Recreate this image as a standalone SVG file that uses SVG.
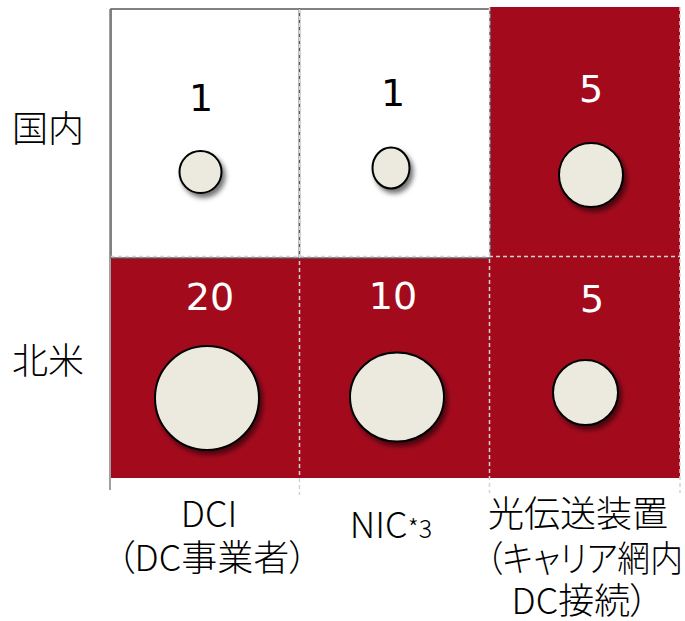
<svg xmlns="http://www.w3.org/2000/svg" width="685" height="621" viewBox="0 0 685 621">
<defs>
<filter id="sh" x="-30%" y="-30%" width="170%" height="170%">
<feDropShadow dx="3" dy="4" stdDeviation="2.5" flood-color="#000" flood-opacity="0.55"/>
</filter>
</defs>
<style>
.red{fill:#A30B1D}
.wcell{fill:#fff;stroke:#595959;stroke-width:1.5}
.dash{stroke:#d4d4d4;stroke-width:1.5;stroke-dasharray:4 3;fill:none}
.bub{fill:#ECEADF;stroke:#000;stroke-width:2;filter:url(#sh)}
.num{font-family:"DejaVu Sans",sans-serif;font-size:38px;text-anchor:middle}
.nw{fill:#fff}
.nb{fill:#000}
.lab{font-family:"Noto Sans CJK JP",sans-serif;font-size:36px;font-weight:300;fill:#000}
.mid{text-anchor:middle}
.palt{font-feature-settings:"palt"}
</style>
<rect width="685" height="621" fill="#fff"/>
<g id="background">
<rect class="red" x="490" y="7" width="190" height="250"/>
<rect class="red" x="111" y="257" width="569" height="221"/>
<rect class="wcell" x="111" y="9" width="188.5" height="249"/>
<rect class="wcell" x="299.5" y="9" width="190.5" height="249"/>
</g>
<g id="grid">
<line x1="110" y1="9" x2="110" y2="490" stroke="#808080" stroke-width="1.5"/>
<line class="dash" x1="111" y1="256.5" x2="680" y2="256.5"/>
<line class="dash" x1="299.5" y1="9" x2="299.5" y2="495"/>
<line class="dash" x1="489.5" y1="7" x2="489.5" y2="493"/>
<line class="dash" x1="680" y1="7" x2="680" y2="493"/>
</g>
<g id="row-domestic">
<text class="lab" x="12" y="142">国内</text>
</g>
<g id="row-na">
<text class="lab" x="12" y="374">北米</text>
</g>
<g id="cell-dci-domestic">
<text class="num nb" x="201" y="111">1</text>
<circle class="bub" cx="200.5" cy="172" r="21"/>
</g>
<g id="cell-nic-domestic">
<text class="num nb" x="393" y="106">1</text>
<ellipse class="bub" cx="391" cy="168" rx="18.5" ry="20.5"/>
</g>
<g id="cell-opt-domestic">
<text class="num nw" x="591" y="102">5</text>
<circle class="bub" cx="591" cy="175" r="32"/>
</g>
<g id="cell-dci-na">
<text class="num nw" x="210" y="310">20</text>
<circle class="bub" cx="207" cy="398" r="52"/>
</g>
<g id="cell-nic-na">
<text class="num nw" x="393" y="309">10</text>
<ellipse class="bub" cx="397" cy="397" rx="47" ry="44.5"/>
</g>
<g id="cell-opt-na">
<text class="num nw" x="592" y="312">5</text>
<circle class="bub" cx="585.5" cy="392.5" r="32.5"/>
</g>
<g id="col-dci">
<text class="lab mid" x="209" y="527" font-size="37">DCI</text>
<text class="lab mid palt" x="212" y="571">（DC事業者）</text>
</g>
<g id="col-nic">
<text class="lab mid" x="391" y="538" font-size="37">NIC<tspan font-size="25">*3</tspan></text>
</g>
<g id="col-opt">
<text class="lab mid" x="578" y="527" font-size="37">光伝送装置</text>
<text class="lab palt" x="486" y="572" textLength="197" lengthAdjust="spacingAndGlyphs">（キャリア網内</text>
<text class="lab mid palt" x="580" y="614">DC接続）</text>
</g>
</svg>
